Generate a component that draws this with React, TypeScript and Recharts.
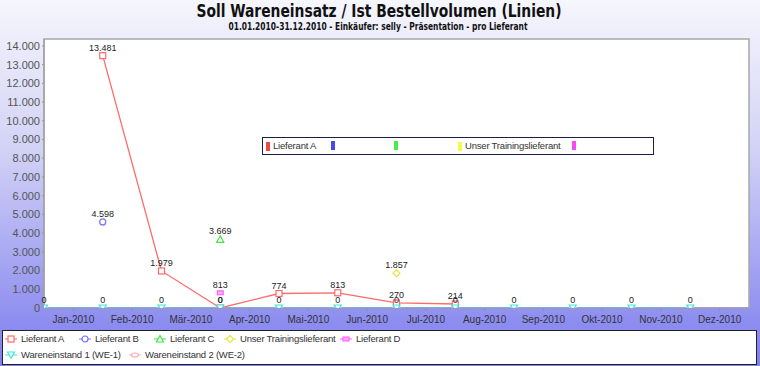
import React from "react";
import { LineChart, Line, XAxis, YAxis, ReferenceArea, LabelList } from "recharts";

// Monate (Kategorien) und Achsenbeschriftungen
const MONATE = [
  "Jan-2010", "Feb-2010", "Mär-2010", "Apr-2010", "Mai-2010", "Jun-2010",
  "Jul-2010", "Aug-2010", "Sep-2010", "Okt-2010", "Nov-2010", "Dez-2010",
];
const Y_TICKS = [0, 1000, 2000, 3000, 4000, 5000, 6000, 7000, 8000, 9000, 10000, 11000, 12000, 13000, 14000];

// Werte je Lieferant (null = kein Wert)
const lieferantA = [null, 13481, 1979, 0, 774, 813, 270, 214, null, null, null, null];
const lieferantB = [null, 4598, null, null, null, null, null, null, null, null, null, null];
const lieferantC = [null, null, null, 3669, null, null, null, null, null, null, null, null];
const trainings = [null, null, null, null, null, null, 1857, null, null, null, null, null];
const lieferantD = [null, null, null, 813, null, null, null, null, null, null, null, null];
const we1 = [0, 0, 0, 0, 0, 0, 0, 0, 0, 0, 0, 0];
const we2 = [0, 0, 0, 0, 0, 0, 0, 0, 0, 0, 0, 0];

const daten = MONATE.map((m, i) => ({
  x: i,
  monat: m,
  a: lieferantA[i],
  b: lieferantB[i],
  c: lieferantC[i],
  t: trainings[i],
  d: lieferantD[i],
  we1: we1[i],
  we2: we2[i],
}));

const X_TICKS = MONATE.map((_, i) => i + 0.5);

const FARBEN = {
  a: "#ff6a6a",
  b: "#7272ff",
  c: "#44e044",
  t: "#e6e63c",
  d: "#ff55ff",
  we1: "#3ee6e6",
  we2: "#ffaaaa",
};

const fmt = (v: number) => String(v).replace(/\B(?=(\d{3})+(?!\d))/g, ".");

const FONT = "'Liberation Sans', Arial, sans-serif";

type Form = "square" | "circle" | "tri" | "diamond" | "bar" | "down" | "ellipse";

function Marker({ cx, cy, form, color }: { cx: number; cy: number; form: Form; color: string }) {
  if (form === "square")
    return <rect x={cx - 3} y={cy - 3} width={6} height={6} fill="#fff" stroke={color} strokeWidth={1.2} />;
  if (form === "circle") return <circle cx={cx} cy={cy} r={3} fill="#fff" stroke={color} strokeWidth={1.2} />;
  if (form === "tri")
    return (
      <polygon
        points={`${cx},${cy - 3.5} ${cx + 3.5},${cy + 3} ${cx - 3.5},${cy + 3}`}
        fill="#fff"
        stroke={color}
        strokeWidth={1.2}
      />
    );
  if (form === "diamond")
    return (
      <polygon
        points={`${cx},${cy - 3.5} ${cx + 3.5},${cy} ${cx},${cy + 3.5} ${cx - 3.5},${cy}`}
        fill="#fff"
        stroke={color}
        strokeWidth={1.2}
      />
    );
  if (form === "bar")
    return <rect x={cx - 3} y={cy - 2} width={6} height={4} fill="#ffaaff" stroke={color} strokeWidth={1} />;
  if (form === "down")
    return (
      <polygon
        points={`${cx - 3.5},${cy - 3} ${cx + 3.5},${cy - 3} ${cx},${cy + 3}`}
        fill="#fff"
        stroke={color}
        strokeWidth={1.2}
      />
    );
  return <ellipse cx={cx} cy={cy} rx={3.5} ry={2} fill="#fff" stroke={color} strokeWidth={1.2} />;
}

const dotFn = (form: Form, color: string) => (p: any) => {
  if (p.value == null || p.cy == null || isNaN(p.cy)) return <g key={p.key ?? p.index} />;
  return <Marker key={p.key ?? p.index} cx={p.cx} cy={p.cy} form={form} color={color} />;
};

const WertLabel = (p: any) => {
  if (p.value == null) return null;
  return (
    <text x={p.x} y={p.y - 5} textAnchor="middle" fontSize={9} fill="#222" fontFamily={FONT}>
      {fmt(p.value)}
    </text>
  );
};

const LEGENDE = [
  { name: "Lieferant A", form: "square" as Form, color: FARBEN.a, left: 2, top: 8 },
  { name: "Lieferant B", form: "circle" as Form, color: FARBEN.b, left: 76, top: 8 },
  { name: "Lieferant C", form: "tri" as Form, color: FARBEN.c, left: 151, top: 8 },
  { name: "Unser Trainingslieferant", form: "diamond" as Form, color: FARBEN.t, left: 221, top: 8 },
  { name: "Lieferant D", form: "bar" as Form, color: FARBEN.d, left: 337, top: 8 },
  { name: "Wareneinstand 1 (WE-1)", form: "down" as Form, color: FARBEN.we1, left: 2, top: 24 },
  { name: "Wareneinstand 2 (WE-2)", form: "ellipse" as Form, color: FARBEN.we2, left: 126, top: 24 },
];

const INNEN = [
  { name: "Lieferant A", color: "#f04848", left: 3 },
  { name: "", color: "#4848f0", left: 68 },
  { name: "", color: "#48ee48", left: 131 },
  { name: "Unser Trainingslieferant", color: "#f8f848", left: 195 },
  { name: "", color: "#f848f8", left: 309 },
];

const legText: React.CSSProperties = {
  fontSize: 9.5,
  letterSpacing: -0.2,
  color: "#333",
  marginLeft: 3,
  whiteSpace: "nowrap",
  lineHeight: "10px",
};

export default function App() {
  return (
    <div
      style={{
        position: "absolute",
        left: 0,
        top: 0,
        width: 760,
        height: 366,
        overflow: "hidden",
        background: "linear-gradient(to bottom, #f6f6fd 0px, #d2d2f6 150px, #8a8af0 330px, #8080ee 366px)",
        fontFamily: FONT,
      }}
    >
      <svg width={760} height={34} style={{ position: "absolute", left: 0, top: 0 }}>
        <text
          x={379}
          y={17}
          textAnchor="middle"
          fontSize={17}
          fontWeight="bold"
          fill="#111"
          fontFamily="'DejaVu Sans Condensed', 'Liberation Sans Narrow', sans-serif"
          textLength={365}
          lengthAdjust="spacingAndGlyphs"
        >
          Soll Wareneinsatz / Ist Bestellvolumen (Linien)
        </text>
        <text
          x={378}
          y={30}
          textAnchor="middle"
          fontSize={10}
          fontWeight="bold"
          fill="#111"
          fontFamily="'DejaVu Sans Condensed', 'Liberation Sans Narrow', sans-serif"
          textLength={299}
          lengthAdjust="spacingAndGlyphs"
        >
          01.01.2010-31.12.2010 - Einkäufer: selly - Präsentation  - pro Lieferant
        </text>
      </svg>

      <div style={{ position: "absolute", left: 0, top: 0 }}>
        <LineChart width={760} height={330} data={daten} margin={{ top: 39, right: 11, bottom: 2, left: 0 }}>
          <XAxis
            dataKey="x"
            type="number"
            domain={[0, 12]}
            ticks={X_TICKS}
            tickFormatter={(v: number) => MONATE[Math.floor(v)]}
            interval={0}
            height={20}
            tickSize={3}
            tickMargin={5}
            stroke="#8c8cc0"
            tick={{ fontSize: 10, fill: "#333", fontFamily: FONT }}
            allowDataOverflow
          />
          <YAxis
            type="number"
            domain={[0, 14370]}
            ticks={Y_TICKS}
            tickFormatter={fmt}
            width={44}
            tickSize={2}
            tickMargin={2}
            stroke="#999"
            tick={{ fontSize: 11, fill: "#555", fontFamily: FONT }}
            allowDataOverflow
          />
          <ReferenceArea x1={0} x2={12} y1={0} y2={14370} fill="#fff" fillOpacity={1} stroke="#a8a8a8" strokeWidth={1.5} ifOverflow="visible" />

          <Line dataKey="we2" stroke={FARBEN.we2} strokeWidth={1} dot={dotFn("ellipse", FARBEN.we2)} isAnimationActive={false} />
          <Line dataKey="a" stroke={FARBEN.a} strokeWidth={1.3} dot={dotFn("square", FARBEN.a)} isAnimationActive={false}>
            <LabelList dataKey="a" content={WertLabel} />
          </Line>
          <Line dataKey="b" stroke={FARBEN.b} dot={dotFn("circle", FARBEN.b)} isAnimationActive={false}>
            <LabelList dataKey="b" content={WertLabel} />
          </Line>
          <Line dataKey="c" stroke={FARBEN.c} dot={dotFn("tri", FARBEN.c)} isAnimationActive={false}>
            <LabelList dataKey="c" content={WertLabel} />
          </Line>
          <Line dataKey="t" stroke={FARBEN.t} dot={dotFn("diamond", FARBEN.t)} isAnimationActive={false}>
            <LabelList dataKey="t" content={WertLabel} />
          </Line>
          <Line dataKey="d" stroke={FARBEN.d} dot={dotFn("bar", FARBEN.d)} isAnimationActive={false}>
            <LabelList dataKey="d" content={WertLabel} />
          </Line>
          <Line dataKey="we1" stroke={FARBEN.we1} strokeWidth={1.3} dot={dotFn("down", FARBEN.we1)} isAnimationActive={false}>
            <LabelList dataKey="we1" content={WertLabel} />
          </Line>
        </LineChart>
      </div>

      {/* eingebettete Legende im Diagramm */}
      <div
        style={{
          position: "absolute",
          left: 262,
          top: 137,
          width: 392,
          height: 18,
          boxSizing: "border-box",
          border: "1px solid #1c1c48",
          background: "#fff",
        }}
      >
        {INNEN.map((it, i) => (
          <div key={i} style={{ position: "absolute", left: it.left, top: 3, display: "flex", alignItems: "center" }}>
            <div style={{ width: 4, height: 9, background: it.color }} />
            {it.name && <span style={legText}>{it.name}</span>}
          </div>
        ))}
      </div>

      {/* Legende unten */}
      <div
        style={{
          position: "absolute",
          left: 2,
          top: 330,
          width: 755,
          height: 35,
          boxSizing: "border-box",
          border: "1px solid #222",
          background: "#fff",
        }}
      >
        {LEGENDE.map((it) => (
          <div key={it.name} style={{ position: "absolute", left: it.left, top: it.top - 6, display: "flex", alignItems: "center", height: 12 }}>
            <svg width={12} height={10}>
              <line x1={0} y1={5} x2={12} y2={5} stroke={it.color} strokeWidth={1} />
              <Marker cx={6} cy={5} form={it.form} color={it.color} />
            </svg>
            <span style={{ ...legText, marginLeft: 4 }}>{it.name}</span>
          </div>
        ))}
      </div>
    </div>
  );
}
